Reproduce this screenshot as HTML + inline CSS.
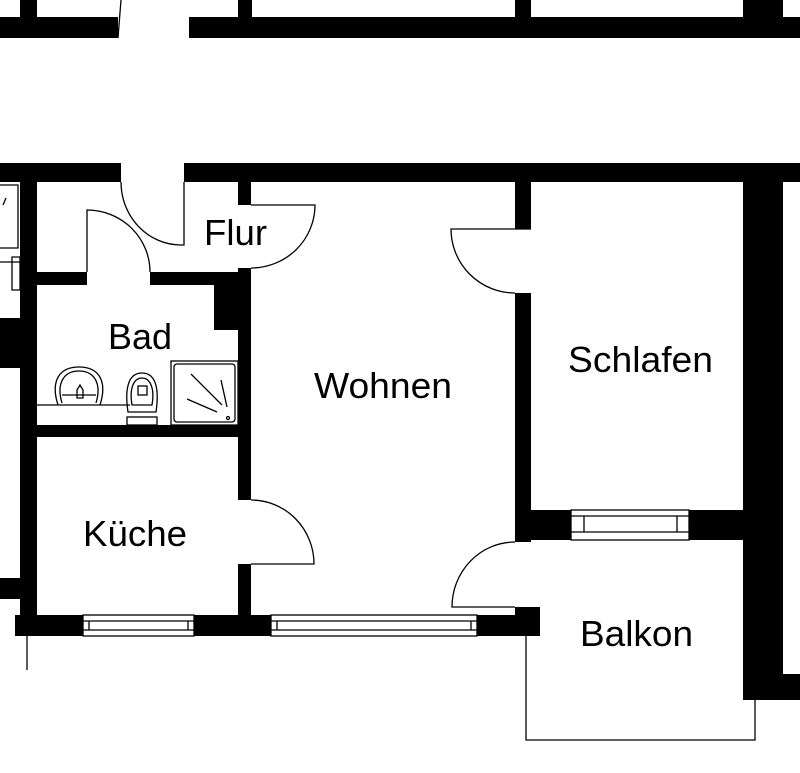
<!DOCTYPE html>
<html><head><meta charset="utf-8"><style>
html,body{margin:0;padding:0;background:#fff;}
svg{display:block;}
text{font-family:"Liberation Sans",Arial,sans-serif;font-size:36px;fill:#000;}
</style></head><body>
<svg width="800" height="773" viewBox="0 0 800 773" xmlns="http://www.w3.org/2000/svg">
<g fill="#000">
<!-- top strip -->
<rect x="0" y="17" width="118" height="21"/>
<rect x="20" y="0" width="17" height="38"/>
<rect x="189" y="17" width="611" height="21"/>
<rect x="238" y="0" width="14" height="38"/>
<rect x="515" y="0" width="16" height="38"/>
<rect x="743" y="0" width="40" height="38"/>
<!-- main top wall -->
<rect x="0" y="163" width="121" height="19"/>
<rect x="184" y="163" width="616" height="19"/>
<!-- left outer wall -->
<rect x="20" y="163" width="17" height="473"/>
<rect x="0" y="318" width="20" height="50"/>
<rect x="0" y="578" width="20" height="21"/>
<!-- Flur/Wohnen wall -->
<rect x="238" y="182" width="13" height="23"/>
<rect x="238" y="268" width="13" height="232"/>
<rect x="238" y="564" width="13" height="51"/>
<!-- Bad top wall -->
<rect x="37" y="272" width="50" height="13"/>
<rect x="150" y="272" width="88" height="13"/>
<rect x="214" y="285" width="24" height="45"/>
<!-- Bad bottom wall -->
<rect x="37" y="425" width="201" height="12"/>
<!-- bottom wall -->
<rect x="15" y="615" width="68" height="21"/>
<rect x="194" y="615" width="77" height="21"/>
<rect x="477" y="615" width="63" height="21"/>
<rect x="515" y="607" width="25" height="29"/>
<!-- Schlafen walls -->
<rect x="515" y="182" width="16" height="47"/>
<rect x="515" y="293" width="16" height="249"/>
<rect x="515" y="510" width="56" height="30"/>
<rect x="689" y="510" width="54" height="30"/>
<rect x="743" y="182" width="40" height="518"/>
<rect x="782" y="674" width="18" height="26"/>
</g>
<g fill="none" stroke="#000" stroke-width="1.3">
<!-- top strip door line -->
<path d="M118,38 L121,0"/>
<!-- entrance door -->
<path d="M184,182 L184,245 L180,245 A60,63 0 0 1 121,182"/>
<!-- Flur door -->
<path d="M251,205 L315,205 A64,63 0 0 1 251,268"/>
<!-- Bad door -->
<path d="M87,272 L87,210 A63,62 0 0 1 150,272"/>
<!-- Küche door -->
<path d="M251,564 L314,564 A63,64 0 0 0 251,500"/>
<!-- Schlafen door -->
<path d="M531,229 L451,229 A64,64 0 0 0 515,293"/>
<!-- Balkon door -->
<path d="M515,607 L452,607 A63,65 0 0 1 515,542"/>
<!-- windows -->
<rect x="83" y="615" width="111" height="21"/>
<path d="M83,621 H194 M83,630 H194 M89,621 V630 M188,621 V630"/>
<rect x="271" y="615" width="206" height="21"/>
<path d="M271,621 H477 M271,630 H477 M277,621 V630 M471,621 V630"/>
<rect x="571" y="510" width="118" height="30"/>
<path d="M571,516 H689 M571,532 H689 M584,516 V532 M677,516 V532"/>
<!-- outside lines -->
<path d="M27,636 V670"/>
<path d="M526,636 V740 H755 V700"/>
<!-- Bad fixtures -->
<path d="M37,405 H130"/>
<path d="M58,405 C50,380 60,367 79,367 C98,367 108,380 100,405"/>
<path d="M62,403 C56,383 64,371 79,371 C94,371 102,383 96,403"/>
<path d="M62,395 H96 M77,390 L80,385 L83,390 V398 H77 Z"/>
<path d="M128,412 C124,385 130,373 142,373 C154,373 160,385 156,412 Z"/>
<path d="M132,405 C129,388 134,378 142,378 C150,378 155,388 152,405 Z"/>
<rect x="138" y="386" width="9" height="9"/>
<rect x="127" y="417" width="30" height="8"/>
<rect x="171" y="361" width="67" height="64"/>
<rect x="174" y="364" width="61" height="58" rx="3"/>
<path d="M191,374 L222,405 M221,380 L227,407 M187,399 L217,412"/>
<circle cx="228" cy="418" r="1.5"/>
<!-- left-edge fixtures -->
<path d="M0,185 H18 V248 H0 M3,205 L6,198"/>
<path d="M0,262 H20 M12,257 V290 H20 V257 Z"/>
</g>
<text x="204" y="245" textLength="63" lengthAdjust="spacingAndGlyphs">Flur</text>
<text x="108" y="349" textLength="64" lengthAdjust="spacingAndGlyphs">Bad</text>
<text x="314" y="398" textLength="138" lengthAdjust="spacingAndGlyphs">Wohnen</text>
<text x="568" y="372" textLength="145" lengthAdjust="spacingAndGlyphs">Schlafen</text>
<text x="83" y="546" textLength="104" lengthAdjust="spacingAndGlyphs">Küche</text>
<text x="580" y="646" textLength="113" lengthAdjust="spacingAndGlyphs">Balkon</text>
</svg>
</body></html>
